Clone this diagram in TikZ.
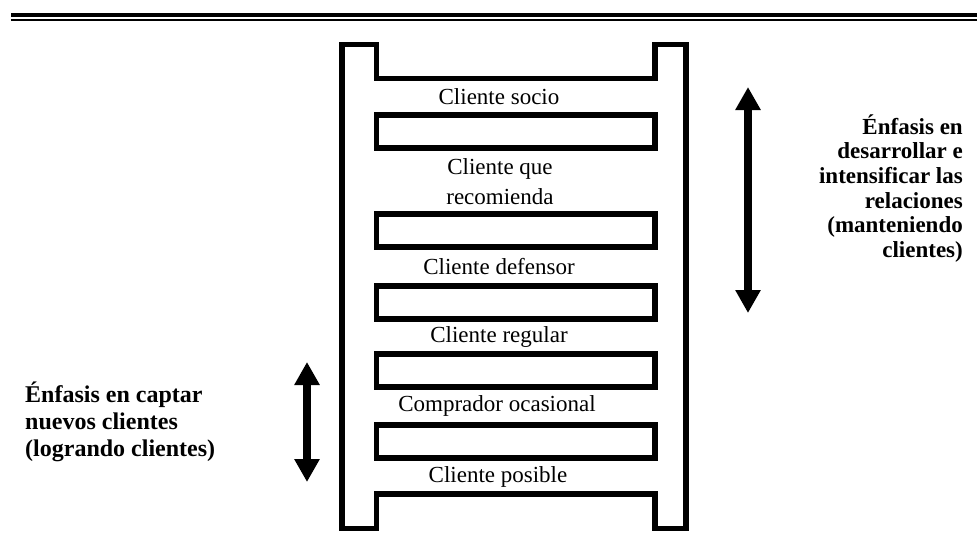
\documentclass[tikz,border=0pt]{standalone}
\usepackage{fontspec}
\setmainfont{Liberation Serif}
\usetikzlibrary{positioning,arrows.meta}

\begin{document}
\begin{tikzpicture}[x=1pt, y=-1pt, line join=miter,
                    rung/.style={draw, line width=5.5pt, fill=white, inner sep=0pt,
                                 minimum width=278.3pt, minimum height=33pt},
                    rung label/.style={align=center, inner sep=0pt,
                                       font=\fontsize{23}{30}\selectfont},
                    note/.style={inner sep=0pt, font=\bfseries},
                    bigarrow/.style={line width=7.5pt,
                                     {Triangle[width=24pt,length=23pt]}-{Triangle[width=24pt,length=23pt]}}]
\useasboundingbox (0,0) rectangle (977,549);
% rule at the top of the page
\draw[line width=4.7pt] (11,15) -- (977,15);
\draw[line width=2pt] (11,20) -- (977,20);
% ladder frame
\draw[line width=5.5pt, fill=white] (342,44.3) -- (376.7,44.3) -- (376.7,78.7) -- (655,78.7)
  -- (655,44.3) -- (686,44.3) -- (686,528.5) -- (655,528.5) -- (655,494) -- (376.7,494)
  -- (376.7,528.5) -- (342,528.5) -- cycle;
% rungs
\node[rung] (rung1) at (515.85,131.3) {};
\node[rung] (rung2) at (515.85,230.7) {};
\node[rung] (rung3) at (515.85,302.5) {};
\node[rung] (rung4) at (515.85,370.3) {};
\node[rung] (rung5) at (515.85,441.7) {};
% steps of the ladder
\node[rung label] (socio) at (499,97) {Cliente socio};
\node[rung label] (recomienda) at (500,182) {Cliente que\\ recomienda};
\node[rung label] (defensor) at (499,267) {Cliente defensor};
\node[rung label] (regular) at (499,336.5) {Cliente regular};
\node[rung label] (ocasional) at (497,406) {Comprador ocasional};
\node[rung label] (posible) at (498,477) {Cliente posible};
% emphasis
\coordinate (keepTop) at (748,87);
\coordinate (keepBot) at (748,313);
\draw[bigarrow] (keepTop) -- (keepBot);
\node[note, anchor=east, align=right, font=\fontsize{23}{24.7}\bfseries\selectfont] (keep) at (963,188.5)
  {Énfasis en\\ desarrollar e\\ intensificar las\\ relaciones\\ (manteniendo\\ clientes)};
\coordinate (getTop) at (307,362);
\coordinate (getBot) at (307,482);
\draw[bigarrow] (getTop) -- (getBot);
\node[note, anchor=west, align=left, font=\fontsize{24}{26.7}\bfseries\selectfont] (get) at (25,422)
  {Énfasis en captar\\ nuevos clientes\\ (logrando clientes)};
\end{tikzpicture}
\end{document}
